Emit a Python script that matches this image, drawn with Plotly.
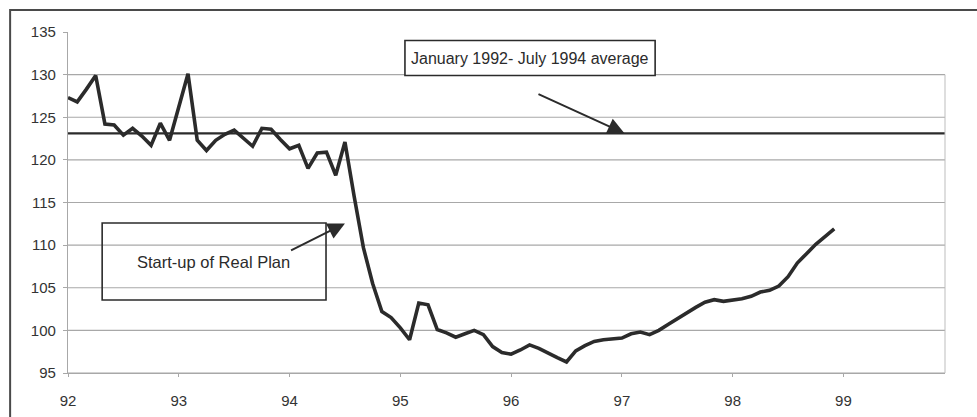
import plotly.graph_objects as go

# Monthly index, January 1992 (month 0) to December 1998 (month 83)
index_1992 = [127.3, 126.8, 128.3, 129.9, 124.2, 124.1, 122.9, 123.7, 122.8, 121.7, 124.3, 122.3]
index_1993 = [126.2, 130.1, 122.3, 121.1, 122.3, 123.0, 123.5, 122.5, 121.6, 123.7, 123.6, 122.4]
index_1994 = [121.3, 121.7, 119.0, 120.8, 120.9, 118.2, 122.1, 115.7, 109.7, 105.5, 102.2, 101.5]
index_1995 = [100.3, 98.9, 103.2, 103.0, 100.1, 99.7, 99.2, 99.6, 100.0, 99.5, 98.1, 97.4]
index_1996 = [97.2, 97.7, 98.3, 97.9, 97.3, 96.8, 96.3, 97.6, 98.2, 98.7, 98.9, 99.0]
index_1997 = [99.1, 99.6, 99.8, 99.5, 100.0, 100.7, 101.4, 102.0, 102.7, 103.3, 103.6, 103.4]
index_1998 = [103.5, 103.7, 104.0, 104.5, 104.7, 105.2, 106.3, 107.9, 109.0, 110.1, 111.0, 111.9]

index_values = index_1992 + index_1993 + index_1994 + index_1995 + index_1996 + index_1997 + index_1998
months = list(range(len(index_values)))

year_labels = ["92", "93", "94", "95", "96", "97", "98", "99"]
year_ticks = [12 * i for i in range(len(year_labels))]

y_ticks = [95, 100, 105, 110, 115, 120, 125, 130, 135]
grid_levels = [95, 100, 105, 110, 115, 120, 125, 130]

avg_1992_1994 = 123.1

label_avg = "January 1992- July 1994 average"
label_plan = "Start-up of Real Plan"

FONT = "Liberation Sans Narrow, Liberation Sans, Arial, sans-serif"
INK = "#2b2b2b"
GRID = "#a8a8a8"

fig = go.Figure()

for lvl in grid_levels:
    fig.add_hline(y=lvl, line=dict(color=GRID, width=1.2), layer="below")

fig.add_trace(go.Scatter(
    x=months, y=index_values, mode="lines",
    line=dict(color=INK, width=3.6, shape="linear"),
    showlegend=False, hoverinfo="skip",
))

# Reference level: Jan 1992 - Jul 1994 average
fig.add_hline(y=avg_1992_1994, line=dict(color=INK, width=2.2))

# Right edge of the plot area
fig.add_shape(type="line", xref="paper", yref="y", x0=1, x1=1, y0=95, y1=130,
              line=dict(color="#bdbdbd", width=1))

# Outer chart frame (top and left edges visible)
fig.add_shape(type="rect", xref="paper", yref="paper",
              x0=-0.066, x1=1.08, y0=-0.3, y1=1.0645,
              line=dict(color="#4a4a4a", width=2), layer="below")

# Caption boxes
fig.add_shape(type="rect", xref="x", yref="y", x0=36.5, x1=63.6, y0=129.9, y1=134.0,
              line=dict(color=INK, width=1.6), fillcolor="white")
fig.add_annotation(x=50.05, y=131.95, xref="x", yref="y", text=label_avg, showarrow=False,
                   font=dict(family=FONT, size=16, color=INK))

fig.add_shape(type="rect", xref="x", yref="y", x0=3.7, x1=27.95, y0=103.56, y1=112.6,
              line=dict(color=INK, width=1.6))
fig.add_annotation(x=15.8, y=108.0, xref="x", yref="y", text=label_plan, showarrow=False,
                   font=dict(family=FONT, size=16.5, color=INK))

# Arrows
fig.add_annotation(x=60.3, y=avg_1992_1994, ax=50.8, ay=127.8, xref="x", yref="y",
                   axref="x", ayref="y", text="", showarrow=True,
                   arrowhead=2, arrowsize=1.7, arrowwidth=2, arrowcolor=INK)
fig.add_annotation(x=30.0, y=112.55, ax=24.0, ay=109.3, xref="x", yref="y",
                   axref="x", ayref="y", text="", showarrow=True,
                   arrowhead=2, arrowsize=1.7, arrowwidth=2, arrowcolor=INK)

fig.update_xaxes(
    range=[0, 95], tickvals=year_ticks, ticktext=year_labels,
    showgrid=False, zeroline=False, automargin=False,
    showline=True, linecolor=GRID, linewidth=1.2,
    ticks="outside", ticklen=3, tickcolor=GRID,
    ticklabelstandoff=11,
    tickfont=dict(family=FONT, size=15, color="#333333"),
)
fig.update_yaxes(
    range=[95, 135], tickvals=y_ticks,
    showgrid=False, zeroline=False, automargin=False,
    showline=True, linecolor=GRID, linewidth=1.2,
    ticks="outside", ticklen=4, tickcolor=GRID,
    ticklabelstandoff=4,
    tickfont=dict(family=FONT, size=15, color="#333333"),
)

fig.update_layout(
    width=977, height=417,
    margin=dict(l=68, r=32, t=32, b=44),
    paper_bgcolor="white", plot_bgcolor="white",
    showlegend=False,
)

fig.write_html("out.html")
